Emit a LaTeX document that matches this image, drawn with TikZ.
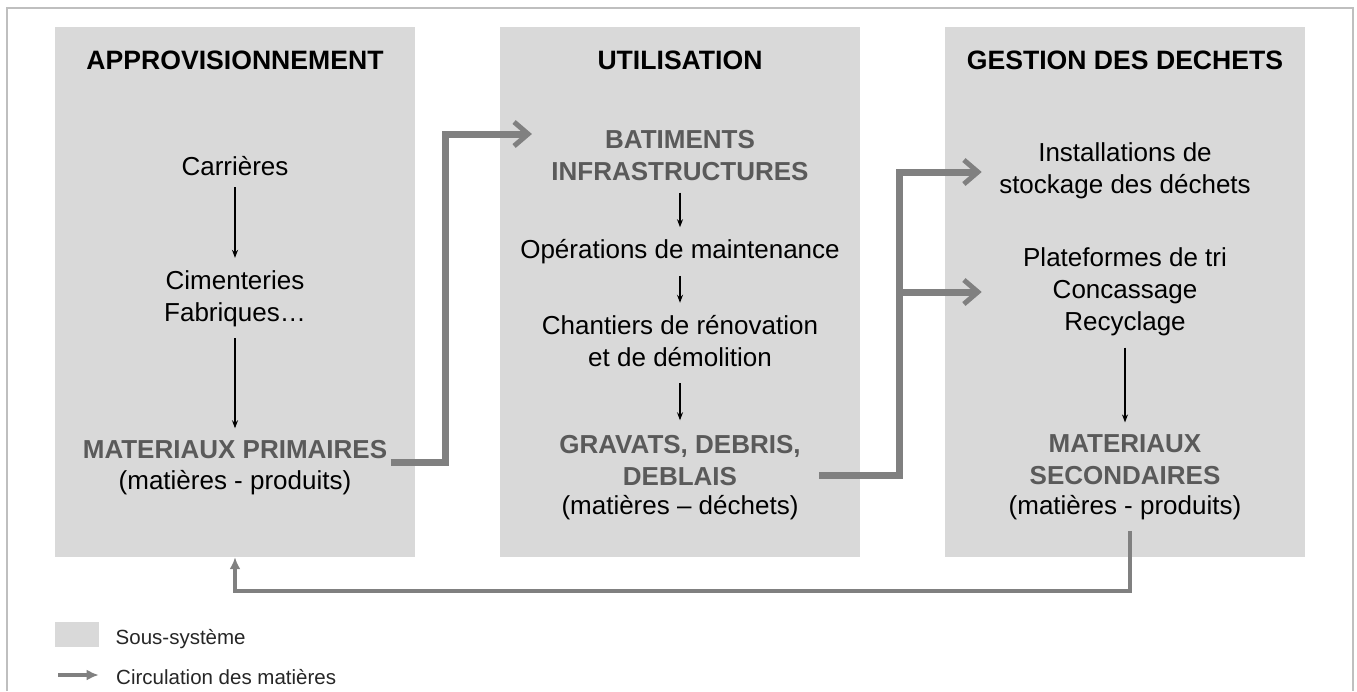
\documentclass[tikz,border=0pt]{standalone}
\usepackage{fontspec}
\setmainfont{Liberation Sans}
\usetikzlibrary{calc,arrows.meta,positioning}
\definecolor{boxgrey}{HTML}{D9D9D9}
\definecolor{flowgrey}{HTML}{808080}
\definecolor{matgrey}{HTML}{5A5A5A}
\definecolor{framegrey}{HTML}{BFBFBF}

\begin{document}
\begin{tikzpicture}[x=1pt,y=-1pt]

\tikzset{sysnode/.style={fill=boxgrey,inner sep=0pt,minimum width=360pt,minimum height=530pt},
titlenode/.style={font=\fontsize{26.6pt}{32pt}\selectfont\bfseries},
itemnode/.style={font=\fontsize{26pt}{32pt}\selectfont,align=center},
matnode/.style={font=\fontsize{26pt}{32pt}\selectfont\bfseries,text=matgrey,align=center},
legnode/.style={font=\fontsize{20.5pt}{24pt}\selectfont,text=black!85},
stepline/.style={-{Stealth[length=8pt,width=6pt]},line width=1.2pt,shorten <=8pt,shorten >=9pt},
flowline/.style={draw=flowgrey,line width=7pt,-{Straight Barb[length=14pt,width=24pt,line width=5pt]}},
backline/.style={draw=flowgrey,line width=3.6pt,-{Latex[length=12pt,width=11pt]}}}

\useasboundingbox (0,0) rectangle (1357,691);

% Frame
\draw[framegrey,line width=1.5pt] (7,691) |- (1353,8) -- (1353,691);

% Sub-systems
\node[sysnode] (boxAppro) at (235,292) {};
\node[sysnode] (boxUtil) at (680,292) {};
\node[sysnode] (boxGestion) at (1124.5,292) {};

\node[titlenode] (titleAppro) at (235,60) {APPROVISIONNEMENT};
\node[titlenode] (titleUtil) at (680,60) {UTILISATION};
\node[titlenode] (titleGestion) at (1125,60) {GESTION DES DECHETS};

% Approvisionnement
\node[itemnode] (carrieres) at (235,166) {Carrières};
\node[itemnode] (cimenteries) at (235,298.5) {Cimenteries\\Fabriques…};
\node[matnode] (matPrim) at (235,450) {MATERIAUX PRIMAIRES};
\node[itemnode] (matPrimSub) at (235,483) {(matières - produits)};
\draw[stepline] (carrieres) -- (cimenteries);
\draw[stepline] (cimenteries) -- (matPrim);

% Utilisation
\node[matnode] (batiments) at (680,156) {BATIMENTS\\INFRASTRUCTURES};
\node[itemnode] (maintenance) at (680,252) {Opérations de maintenance};
\node[itemnode] (chantiers) at (680,341) {Chantiers de rénovation\\et de démolition};
\node[matnode] (gravats) at (680,461) {GRAVATS, DEBRIS,\\DEBLAIS};
\node[itemnode] (gravatsSub) at (680,508) {(matières – déchets)};
\draw[stepline] (batiments) -- (maintenance);
\draw[stepline] (maintenance) -- (chantiers);
\draw[stepline,shorten <=13pt,shorten >=12pt] (chantiers) -- (gravats);

% Gestion des dechets
\node[itemnode] (stockage) at (1125,171) {Installations de\\stockage des déchets};
\node[itemnode] (plateformes) at (1125,292) {Plateformes de tri\\Concassage\\Recyclage};
\node[matnode] (matSec) at (1125,460) {MATERIAUX\\SECONDAIRES};
\node[itemnode] (matSecSub) at (1125,508) {(matières - produits)};
\draw[stepline] (plateformes) -- (matSec);

% Flows between sub-systems
\draw[flowline] ($(matPrim.east)+(0,12)$) -- ++(55,0) |- ($(batiments.west)+(-16,-22)$);
\draw[flowline] ($(gravats.east)+(15,14)$) -- ++(80,0) coordinate (split) |- ($(stockage.west)+(-14,1)$);
\draw[flowline] (split |- plateformes.west) -- ($(stockage.west |- plateformes.west)+(-14,0)$);
\draw[backline] ($(matSecSub.south)+(5,7)$) -- ++(0,60) -| (boxAppro.south);

% Legend
\node[fill=boxgrey,inner sep=0pt,minimum width=44pt,minimum height=25pt] (legBox) at (77,634.5) {};
\node[legnode,right=13pt of legBox,yshift=-5pt] (legBoxText) {Sous-système};
\coordinate (legArrowStart) at (58,675);
\node[legnode,anchor=west] (legFlowText) at (112.7,677) {Circulation des matières};
\draw[backline] (legArrowStart) -- ($(legFlowText.west)+(-14,-2)$);

\end{tikzpicture}
\end{document}
